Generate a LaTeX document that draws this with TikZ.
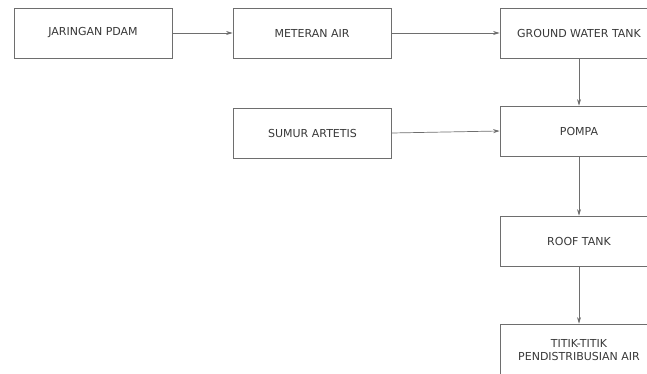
\documentclass[tikz,border=0pt]{standalone}
\usepackage{fontspec}
\setmainfont{DejaVu Sans}
\usetikzlibrary{arrows.meta}
\definecolor{boxline}{HTML}{6E6E6E}
\definecolor{boxtext}{HTML}{383838}
\begin{document}
\begin{tikzpicture}[x=1pt,y=-1pt,
  flowbox/.style={draw=boxline, line width=0.8pt, minimum width=158pt, minimum height=50pt,
    inner sep=0pt, text=boxtext, font=\fontsize{11}{13.5}\selectfont, align=center},
  flowarrow/.style={draw=boxline, line width=0.7pt, -{Stealth[length=6.5pt,width=4pt,fill=black!80]}}]
\useasboundingbox (0,0) rectangle (647,374);
\clip (0,0) rectangle (647,374);
\node[flowbox] (jar) at (93,33) {JARINGAN PDAM};
\node[flowbox] (met) at (312,33) {METERAN AIR};
\node[flowbox] (gwt) at (579,33) {GROUND WATER TANK};
\node[flowbox] (sum) at (312.5,133) {SUMUR ARTETIS};
\node[flowbox] (pom) at (579,131) {POMPA};
\node[flowbox] (roof) at (579,241) {ROOF TANK};
\node[flowbox, minimum height=52pt] (tit) at (579,350) {TITIK-TITIK\\PENDISTRIBUSIAN AIR};
\draw[flowarrow] (jar) -- (met);
\draw[flowarrow] (met) -- (gwt);
\draw[flowarrow] (gwt) -- (pom);
\draw[flowarrow] (sum.east) -- (pom.west);
\draw[flowarrow] (pom) -- (roof);
\draw[flowarrow] (roof) -- (tit);
\end{tikzpicture}
\end{document}
